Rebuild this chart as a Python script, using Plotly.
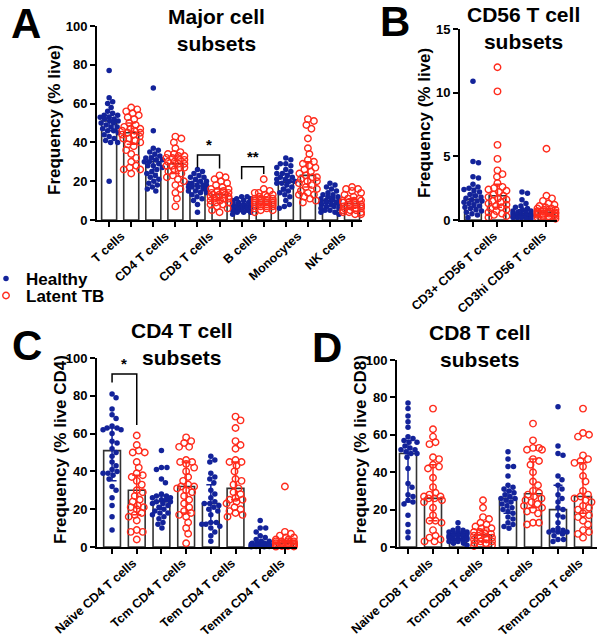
import plotly.graph_objects as go
import numpy as np

# ---------------- DATA ----------------
A_categories = ["T cells", "CD4 T cells", "CD8 T cells", "B cells", "Monocytes", "NK cells"]
A_healthy = [
    [77, 63, 61, 60, 58, 56, 55, 54, 54, 53, 53, 52, 52, 51, 51, 50, 50, 49, 48, 48, 47, 46, 46, 45, 44, 43, 42, 41, 40, 40, 20],
    [68, 46, 37, 36, 35, 34, 33, 32, 32, 31, 31, 30, 30, 29, 28, 28, 27, 26, 25, 24, 23, 22, 21, 20, 19, 18, 17, 16, 15],
    [26, 25, 24, 23, 22, 22, 21, 20, 20, 19, 19, 18, 18, 18, 17, 17, 17, 16, 16, 15, 15, 14, 14, 13, 12, 11, 10, 8, 4],
    [12, 12, 11, 11, 10, 10, 9, 9, 9, 8, 8, 8, 8, 7, 7, 7, 7, 6, 6, 6, 6, 6, 5, 5, 5, 5, 4, 4, 4, 3],
    [32, 31, 29, 29, 28, 27, 26, 25, 24, 24, 23, 22, 22, 21, 21, 20, 20, 19, 19, 18, 17, 16, 15, 14, 13, 12, 10, 8, 7, 6],
    [19, 18, 17, 16, 15, 14, 13, 13, 12, 12, 11, 11, 10, 10, 10, 9, 9, 9, 8, 8, 8, 7, 7, 6, 6, 5, 5, 4, 4, 3],
]
A_latent = [
    [58, 57, 56, 55, 54, 53, 52, 50, 49, 48, 47, 47, 46, 46, 45, 45, 44, 44, 43, 42, 42, 41, 40, 39, 38, 36, 34, 32, 30, 28, 27, 26, 26, 24],
    [43, 42, 40, 37, 35, 34, 34, 33, 33, 32, 32, 31, 31, 30, 30, 29, 29, 28, 28, 27, 27, 26, 25, 24, 23, 22, 21, 20, 18, 16, 14, 11, 7],
    [23, 22, 21, 20, 19, 18, 17, 16, 16, 15, 15, 14, 14, 13, 13, 13, 12, 12, 12, 11, 11, 11, 10, 10, 9, 9, 8, 8, 7, 6, 5, 4],
    [21, 16, 15, 14, 14, 13, 13, 12, 12, 11, 11, 11, 10, 10, 10, 10, 9, 9, 9, 9, 8, 8, 8, 8, 7, 7, 7, 6, 6, 5, 5, 4],
    [52, 51, 49, 47, 42, 37, 34, 31, 30, 29, 28, 27, 26, 25, 24, 23, 22, 22, 21, 20, 20, 19, 18, 17, 16, 15, 14, 13, 13, 12, 11, 10, 9],
    [17, 16, 16, 15, 14, 13, 12, 11, 11, 10, 10, 10, 9, 9, 9, 8, 8, 8, 7, 7, 7, 6, 6, 6, 5, 5, 5, 4, 4, 4, 3, 3],
]
A_bar_healthy = [51, 30, 17.5, 6.5, 19.5, 10]
A_bar_latent = [45, 29, 13, 9.5, 23, 8.5]
A_err_healthy = [(46, 54), (24, 33), (15, 20), (5, 8), (15, 24), (7, 12)]
A_err_latent = [(39, 50), (24, 33), (10, 16), (8, 12), (17, 30), (6, 11)]

B_categories = ["CD3+ CD56 T cells", "CD3hi CD56 T cells"]
B_healthy = [
    [10.9, 4.6, 4.5, 3.4, 3.3, 2.8, 2.6, 2.5, 2.4, 2.3, 2.2, 2.0, 1.9, 1.8, 1.7, 1.6, 1.5, 1.5, 1.4, 1.3, 1.2, 1.1, 1.0, 0.9, 0.8, 0.7, 0.6, 0.5, 0.4, 0.2],
    [2.2, 2.1, 1.6, 1.3, 1.1, 1.0, 0.9, 0.8, 0.7, 0.7, 0.6, 0.6, 0.5, 0.5, 0.5, 0.4, 0.4, 0.4, 0.3, 0.3, 0.3, 0.3, 0.2, 0.2, 0.2, 0.1, 0.1],
]
B_latent = [
    [12.0, 10.1, 5.9, 4.8, 3.9, 3.6, 3.4, 2.9, 2.6, 2.5, 2.4, 2.3, 2.2, 2.0, 1.9, 1.8, 1.7, 1.6, 1.5, 1.4, 1.3, 1.2, 1.1, 1.0, 0.9, 0.8, 0.7, 0.6, 0.5, 0.4, 0.3, 0.2],
    [5.6, 1.9, 1.7, 1.5, 1.3, 1.2, 1.1, 1.0, 0.9, 0.9, 0.8, 0.8, 0.7, 0.7, 0.7, 0.6, 0.6, 0.6, 0.5, 0.5, 0.5, 0.5, 0.4, 0.4, 0.4, 0.3, 0.3, 0.3, 0.2, 0.2, 0.1],
]
B_bar_healthy = [1.6, 0.5]
B_bar_latent = [1.9, 0.6]
B_err_healthy = [(1.0, 2.5), (0.3, 0.8)]
B_err_latent = [(1.0, 2.8), (0.4, 0.9)]

C_categories = ["Naive CD4 T cells", "Tcm CD4 T cells", "Tem CD4 T cells", "Temra CD4 T cells"]
C_healthy = [
    [81, 79, 73, 70, 68, 64, 63, 63, 62, 62, 60, 56, 55, 52, 50, 48, 45, 43, 41, 40, 39, 39, 38, 36, 32, 30, 26, 22, 16, 9],
    [51, 42, 42, 41, 36, 34, 28, 27, 27, 26, 26, 25, 25, 24, 24, 23, 23, 22, 21, 20, 19, 18, 18, 17, 16, 15, 13, 12, 10],
    [48, 46, 45, 39, 37, 36, 34, 30, 28, 26, 24, 23, 23, 22, 21, 20, 19, 17, 13, 13, 12, 12, 11, 10, 8, 6, 3],
    [14, 10, 10, 8, 6, 5, 4, 3, 3, 2, 2, 2, 1.5, 1.5, 1, 1, 1, 0.8, 0.5, 0.5, 0.3, 0.2, 0.1, 0.1],
]
C_latent = [
    [59, 54, 51, 50, 50, 45, 42, 39, 38, 37, 35, 33, 30, 29, 27, 25, 24, 22, 21, 21, 20, 18, 17, 16, 14, 9, 8, 8, 4],
    [58, 56, 55, 53, 53, 46, 45, 45, 44, 42, 40, 37, 35, 33, 32, 32, 31, 30, 29, 27, 25, 23, 21, 19, 18, 17, 16, 13, 10, 7, 2],
    [69, 67, 63, 56, 54, 52, 46, 45, 45, 43, 40, 36, 35, 33, 31, 29, 28, 26, 25, 25, 24, 23, 21, 20, 19, 18, 17, 16],
    [32, 8, 7, 6, 5, 5, 4, 4, 3, 3, 3, 3, 2, 2, 2, 2, 2, 1.5, 1.5, 1, 1, 1, 1, 0.8, 0.5, 0.5, 0.3, 0.2],
]
C_bar_healthy = [51, 24, 23, 1.5]
C_bar_latent = [30, 32, 31, 2]
C_err_healthy = [(35, 63), (20, 27), (13, 33), (0.5, 3)]
C_err_latent = [(17, 38), (18, 45), (25, 45), (1, 3)]

D_categories = ["Naive CD8 T cells", "Tcm CD8 T cells", "Tem CD8 T cells", "Temra CD8 T cells"]
D_healthy = [
    [77, 74, 70, 67, 64, 59, 58, 57, 56, 56, 54, 53, 52, 52, 51, 50, 50, 48, 42, 34, 32, 28, 27, 25, 24, 23, 17, 12, 8, 5],
    [13, 10, 9, 9, 8, 8, 8, 7, 7, 7, 6, 6, 6, 6, 5, 5, 5, 4, 4, 4, 3, 3, 2, 2, 1],
    [51, 47, 43, 43, 38, 33, 32, 31, 30, 29, 28, 27, 26, 26, 25, 24, 23, 22, 21, 20, 19, 18, 16, 15, 13, 12, 11, 10],
    [75, 54, 50, 49, 38, 36, 33, 31, 28, 26, 24, 21, 20, 17, 16, 13, 10, 9, 9, 8, 8, 8, 7, 6, 4, 4, 3],
]
D_latent = [
    [74, 63, 59, 56, 55, 48, 47, 44, 43, 42, 37, 32, 29, 28, 27, 27, 26, 26, 25, 24, 21, 17, 14, 14, 13, 9, 6, 5, 4, 3, 3],
    [25, 21, 16, 15, 13, 12, 11, 10, 10, 9, 8, 8, 7, 7, 6, 6, 5, 5, 5, 4, 4, 3, 3, 2, 2, 1, 1, 0.5],
    [66, 57, 53, 53, 52, 52, 47, 46, 44, 40, 35, 33, 30, 29, 28, 27, 26, 25, 24, 23, 22, 21, 20, 19, 18, 13, 13, 12],
    [74, 61, 60, 59, 49, 47, 46, 45, 43, 38, 35, 30, 28, 27, 26, 25, 24, 22, 21, 20, 18, 17, 16, 14, 12, 9, 8, 7, 5],
]
D_bar_healthy = [50, 6, 26, 20]
D_bar_latent = [26, 6.5, 28.5, 27]
D_err_healthy = [(24, 57), (4, 8), (18, 30), (8, 33)]
D_err_latent = [(14, 44), (3, 9), (21, 47), (18, 45)]

# significance brackets: (panel, group index, top, left leg end, right leg end, label)
brackets = [("A", 2, 33.5, 27, 26.5, "*"), ("A", 3, 27.5, 21, 23.7, "**"), ("C", 0, 91.5, 87, 64.5, "*")]

# ---------------- STYLE / LAYOUT ----------------
W, H = 602, 638
FONT = "Arial, 'Liberation Sans', Helvetica, sans-serif"
BLUE = "#13239a"
RED = "#ff2b1c"
BAR_LINE = "#333333"

def px_x(x):
    return x / W

def px_y(y):
    return 1 - y / H

panels = {
    "A": dict(ax="", dom=(97, 362, 26, 220), xr=(-0.55, 11.45), ymax=100, dtick=20, lab_off=0.55,
              cats=A_categories, h=A_healthy, l=A_latent, bh=A_bar_healthy, bl=A_bar_latent,
              eh=A_err_healthy, el=A_err_latent, title="Major cell<br>subsets", ytitle="Frequency (% live)"),
    "B": dict(ax="2", dom=(460, 557, 29, 220), xr=(-0.53, 3.43), ymax=15, dtick=5, lab_off=0.85,
              cats=B_categories, h=B_healthy, l=B_latent, bh=B_bar_healthy, bl=B_bar_latent,
              eh=B_err_healthy, el=B_err_latent, title="CD56 T cell<br>subsets", ytitle="Frequency (% live)"),
    "C": dict(ax="3", dom=(97, 297, 358, 547), xr=(-0.61, 7.49), ymax=100, dtick=20, lab_off=0.85,
              cats=C_categories, h=C_healthy, l=C_latent, bh=C_bar_healthy, bl=C_bar_latent,
              eh=C_err_healthy, el=C_err_latent, title="CD4 T cell<br>subsets", ytitle="Frequency (% live CD4)"),
    "D": dict(ax="4", dom=(397, 597, 360, 547), xr=(-0.44, 7.56), ymax=100, dtick=20, lab_off=0.85,
              cats=D_categories, h=D_healthy, l=D_latent, bh=D_bar_healthy, bl=D_bar_latent,
              eh=D_err_healthy, el=D_err_latent, title="CD8 T cell<br>subsets", ytitle="Frequency (% live CD8)"),
}


def swarm(vals, ypu, xpu, d=5.4, maxpx=9.0):
    """Beeswarm horizontal offsets (in x data units) so that dots don't overlap."""
    order = np.argsort(-np.asarray(vals, dtype=float))
    placed = []
    offs = np.zeros(len(vals))
    cands = [0.0]
    for k in range(1, 40):
        cands += [k * 0.5, -k * 0.5]
    for idx in order:
        y = vals[idx] * ypu
        best, bestpen = 0.0, 1e9
        for c in cands:
            if abs(c) > maxpx:
                continue
            pen = 0.0
            for (px, py) in placed:
                dist = np.hypot(px - c, py - y)
                if dist < d:
                    pen += d - dist
            if pen == 0:
                best = c
                bestpen = 0
                break
            if pen < bestpen:
                best, bestpen = c, pen
        placed.append((best, y))
        offs[idx] = best / xpu
    return offs


fig = go.Figure()
layout = dict(width=W, height=H, margin=dict(l=0, r=0, t=0, b=0, autoexpand=False),
              paper_bgcolor="white", plot_bgcolor="white", showlegend=True,
              font=dict(family=FONT, color="black"))
annotations = []
shapes = []

for key, p in panels.items():
    ax = p["ax"]
    x0, x1, yt, yb = p["dom"]
    ypu = (yb - yt) / p["ymax"]
    xpu = (x1 - x0) / (p["xr"][1] - p["xr"][0])
    n = len(p["cats"])
    pos_h = [2 * i for i in range(n)]
    pos_l = [2 * i + 1 for i in range(n)]
    xa, ya = "x" + ax, "y" + ax

    fig.add_trace(go.Bar(x=pos_h + pos_l, y=list(p["bh"]) + list(p["bl"]), width=0.68,
                         marker=dict(color="white", line=dict(color=BAR_LINE, width=1.6)),
                         xaxis=xa, yaxis=ya, showlegend=False, hoverinfo="skip"))
    hx, hy, lx, ly = [], [], [], []
    for i in range(n):
        oh = swarm(p["h"][i], ypu, xpu, d=5.2)
        hx += list(pos_h[i] + oh)
        hy += list(p["h"][i])
        ol = swarm(p["l"][i], ypu, xpu, d=6.0)
        lx += list(pos_l[i] + ol)
        ly += list(p["l"][i])
    fig.add_trace(go.Scatter(x=hx, y=hy, mode="markers", name="Healthy", legend="legend",
                             marker=dict(color=BLUE, size=5.5, line=dict(width=0)),
                             xaxis=xa, yaxis=ya, showlegend=(key == "A"), cliponaxis=False))
    fig.add_trace(go.Scatter(x=lx, y=ly, mode="markers", name="Latent TB", legend="legend2",
                             marker=dict(symbol="circle-open", color=RED, size=6.5, line=dict(width=1.4)),
                             xaxis=xa, yaxis=ya, showlegend=(key == "A"), cliponaxis=False))
    for pos, bars, errs, col in ((pos_h, p["bh"], p["eh"], BLUE), (pos_l, p["bl"], p["el"], RED)):
        fig.add_trace(go.Scatter(x=pos, y=bars, mode="markers", marker=dict(size=1, opacity=0),
                                 error_y=dict(type="data", symmetric=False,
                                              array=[e[1] - b for b, e in zip(bars, errs)],
                                              arrayminus=[b - e[0] for b, e in zip(bars, errs)],
                                              color=col, thickness=1.5, width=4.5),
                                 xaxis=xa, yaxis=ya, showlegend=False, hoverinfo="skip"))

    layout["xaxis" + ax] = dict(domain=[px_x(x0), px_x(x1)], range=list(p["xr"]), anchor=ya,
                                automargin=False,
                                showline=True, linecolor="black", linewidth=2, showgrid=False, zeroline=False,
                                tickmode="array", tickvals=[2 * i + p["lab_off"] for i in range(n)],
                                ticktext=p["cats"],
                                ticks="outside", ticklen=2, tickcolor="rgba(0,0,0,0)", tickangle=-42,
                                tickfont=dict(family=FONT, size=12.5, color="black", weight="bold"),
                                minor=dict(tickmode="array", tickvals=pos_h + pos_l, ticks="outside",
                                           ticklen=5, tickwidth=1.5, tickcolor="black", showgrid=False),
                                fixedrange=True)
    layout["yaxis" + ax] = dict(domain=[px_y(yb), px_y(yt)], range=[0, p["ymax"]], anchor=xa,
                                automargin=False,
                                showline=True, linecolor="black", linewidth=2, showgrid=False, zeroline=False,
                                tickmode="linear", tick0=0, dtick=p["dtick"], ticks="outside", ticklen=5,
                                tickwidth=2, tickcolor="black",
                                tickfont=dict(family=FONT, size=13, color="black", weight="bold"),
                                fixedrange=True)

for (pk, gi, top, lh, rh, lab) in brackets:
    ax = panels[pk]["ax"]
    xa, ya = "x" + ax, "y" + ax
    xl, xr_ = 2 * gi, 2 * gi + 1
    shapes.append(dict(type="path", xref=xa, yref=ya,
                       path=f"M {xl},{lh} L {xl},{top} L {xr_},{top} L {xr_},{rh}",
                       line=dict(color="black", width=1.5)))
    annotations.append(dict(x=(xl + xr_) / 2, y=top, xref=xa, yref=ya, text=f"<b>{lab}</b>",
                            showarrow=False, yanchor="bottom", yshift=0,
                            font=dict(family=FONT, size=15, color="black")))

title_pos = {"A": (217, 30), "B": (523, 28), "C": (182, 344), "D": (480, 346)}
ytitle_pos = {"A": (55, 120), "B": (425, 123), "C": (60, 450), "D": (360, 450)}
letter_pos = {"A": (26, 23), "B": (395, 21), "C": (27, 345), "D": (327, 347)}
for key, p in panels.items():
    tx, ty = title_pos[key]
    annotations.append(dict(x=px_x(tx), y=px_y(ty), xref="paper", yref="paper", text=p["title"],
                            showarrow=False, xanchor="center", yanchor="middle",
                            font=dict(family=FONT, size=21, color="black", weight="bold")))
    yx, yy = ytitle_pos[key]
    annotations.append(dict(x=px_x(yx), y=px_y(yy), xref="paper", yref="paper", text=p["ytitle"],
                            showarrow=False, textangle=-90, xanchor="center", yanchor="middle",
                            font=dict(family=FONT, size=17, color="black", weight="bold")))
    lx_, ly_ = letter_pos[key]
    annotations.append(dict(x=px_x(lx_), y=px_y(ly_), xref="paper", yref="paper", text=key,
                            showarrow=False, xanchor="center", yanchor="middle", borderpad=0,
                            font=dict(family=FONT, size=42, color="black", weight="bold")))

layout["annotations"] = annotations
layout["shapes"] = shapes
leg_common = dict(xanchor="left", yanchor="middle",
                  font=dict(family=FONT, size=17, color="black", weight="bold"),
                  itemwidth=30, tracegroupgap=0, bgcolor="rgba(0,0,0,0)")
layout["legend"] = dict(x=px_x(-14), y=px_y(279), **leg_common)
layout["legend2"] = dict(x=px_x(-14), y=px_y(296), **leg_common)
fig.update_layout(**layout)
fig.write_html("out.html", config={"displayModeBar": False},
               post_script="document.body.style.margin='0';document.body.style.overflow='hidden';")
